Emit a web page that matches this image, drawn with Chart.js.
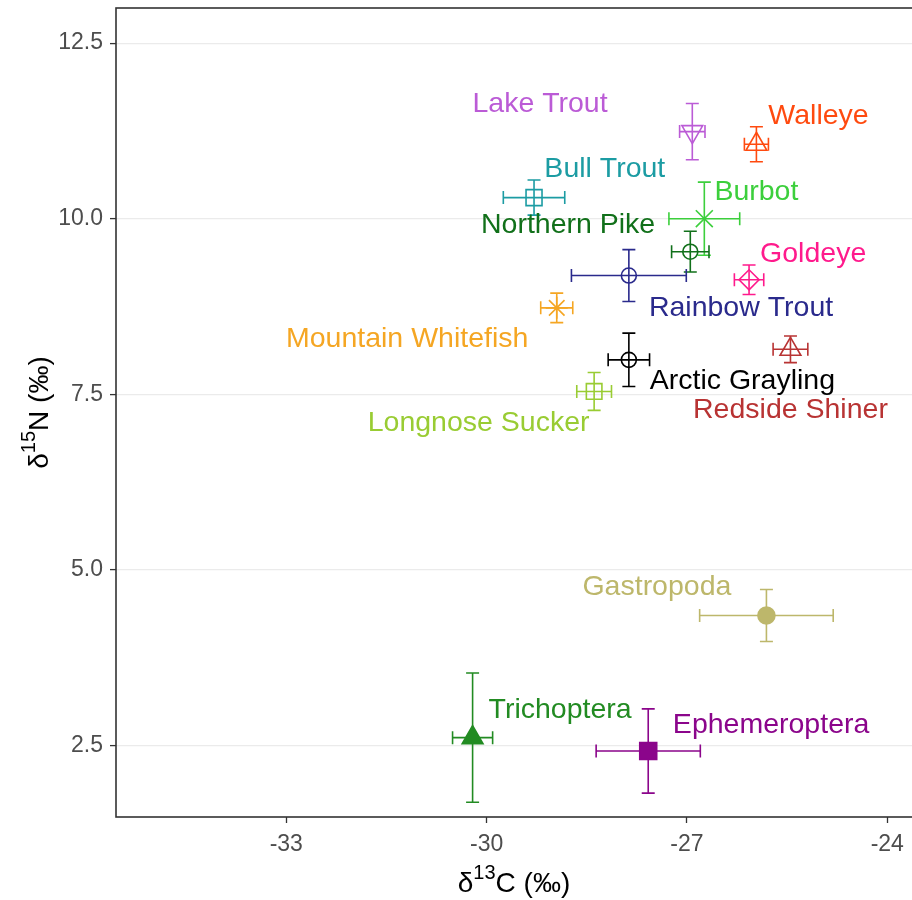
<!DOCTYPE html>
<html>
<head>
<meta charset="utf-8">
<script src="https://cdn.jsdelivr.net/npm/chart.js@4.4.1/dist/chart.umd.min.js"></script>
<style>
  html, body { margin: 0; padding: 0; background: #ffffff; }
  #wrap { width: 912px; height: 900px; }
</style>
</head>
<body>
<div id="wrap"><canvas id="iso" width="912" height="900"></canvas></div>
<script>
// Stable isotope biplot: mean δ13C / δ15N per taxon with ±1 SD error bars

const taxa = [
  'Arctic Grayling', 'Bull Trout', 'Burbot', 'Ephemeroptera', 'Gastropoda',
  'Goldeye', 'Lake Trout', 'Longnose Sucker', 'Mountain Whitefish',
  'Northern Pike', 'Rainbow Trout', 'Redside Shiner', 'Trichoptera', 'Walleye'
];

// mean δ13C (‰) and its SD
const carbonMean = [-27.87, -29.29, -26.74, -27.58, -25.81, -26.07, -26.92, -28.39, -28.95, -26.95, -27.87, -25.45, -30.21, -25.96];
const carbonSD   = [  0.31,   0.46,   0.53,   0.78,   1.00,   0.22,   0.19,   0.26,   0.24,   0.28,   0.86,   0.26,   0.30,   0.18];

// mean δ15N (‰) and its SD
const nitrogenMean = [7.99, 10.30, 10.00, 2.42, 4.35, 9.13, 11.24, 7.54, 8.73, 9.53, 9.19, 8.14, 2.61, 11.06];
const nitrogenSD   = [0.38,  0.25,  0.52, 0.60, 0.37, 0.21,  0.40, 0.27, 0.21, 0.29, 0.37, 0.19, 0.92,  0.25];

// where each taxon name sits, in axis units (δ13C, δ15N)
const labelCarbon   = [-26.17, -28.23, -25.96, -25.74, -27.45, -25.11, -29.20, -30.12, -31.19, -28.78, -26.19, -25.45, -28.90, -25.03];
const labelNitrogen = [  7.72,  10.74,  10.40,   2.82,   4.78,   9.52,  11.66,   7.11,   8.32,   9.94,   8.76,   7.30,   3.03,  11.49];

const xTicks = [-33, -30, -27, -24];
const yTicks = [2.5, 5.0, 7.5, 10.0, 12.5];

// per-taxon styling
const colours = [
  '#000000', '#1c9ca3', '#3ccf3c', '#8b058b', '#bdb76b',
  '#ff1a8c', '#bb5bd6', '#99cc33', '#f5a623',
  '#11701a', '#2a2a8c', '#b83333', '#228b22', '#ff4a0f'
];
const shapes = [
  { style: 'circle',   r: 7.5, rot: 0,   fill: false },
  { style: 'rect',     r: 11.3, rot: 0,  fill: false },
  { style: 'crossRot', r: 12,  rot: 0,   fill: false },
  { style: 'rect',     r: 12,  rot: 0,   fill: true  },
  { style: 'circle',   r: 8.5, rot: 0,   fill: true  },
  { style: 'rectRot',  r: 10,  rot: 0,   fill: false },
  { style: 'triangle', r: 12,  rot: 180, fill: false },
  { style: 'rect',     r: 11,  rot: 0,   fill: false },
  { style: 'star',     r: 11,  rot: 0,   fill: false },
  { style: 'circle',   r: 7.5, rot: 0,   fill: false },
  { style: 'circle',   r: 7.5, rot: 0,   fill: false },
  { style: 'triangle', r: 12,  rot: 0,   fill: false },
  { style: 'triangle', r: 12,  rot: 0,   fill: true  },
  { style: 'triangle', r: 12,  rot: 0,   fill: false }
];

const FONT = "'Liberation Sans', Arial, Helvetica, sans-serif";
const CAP = 6.5;

// ±SD whiskers with end caps, placed through the chart's scales
const errorBars = {
  id: 'errorBars',
  beforeDatasetsDraw(chart) {
    const { ctx, scales: { x, y } } = chart;
    ctx.save();
    ctx.lineWidth = 1.6;
    taxa.forEach((t, i) => {
      const cx = x.getPixelForValue(carbonMean[i]);
      const cy = y.getPixelForValue(nitrogenMean[i]);
      const x0 = x.getPixelForValue(carbonMean[i] - carbonSD[i]);
      const x1 = x.getPixelForValue(carbonMean[i] + carbonSD[i]);
      const y0 = y.getPixelForValue(nitrogenMean[i] - nitrogenSD[i]);
      const y1 = y.getPixelForValue(nitrogenMean[i] + nitrogenSD[i]);
      ctx.strokeStyle = colours[i];
      ctx.beginPath();
      ctx.moveTo(x0, cy); ctx.lineTo(x1, cy);
      ctx.moveTo(x0, cy - CAP); ctx.lineTo(x0, cy + CAP);
      ctx.moveTo(x1, cy - CAP); ctx.lineTo(x1, cy + CAP);
      ctx.moveTo(cx, y0); ctx.lineTo(cx, y1);
      ctx.moveTo(cx - CAP, y0); ctx.lineTo(cx + CAP, y0);
      ctx.moveTo(cx - CAP, y1); ctx.lineTo(cx + CAP, y1);
      ctx.stroke();
    });
    ctx.restore();
  }
};

// taxon names in their own colours
const taxonLabels = {
  id: 'taxonLabels',
  afterDatasetsDraw(chart) {
    const { ctx, scales: { x, y } } = chart;
    ctx.save();
    ctx.font = `28.5px ${FONT}`;
    ctx.textAlign = 'center';
    ctx.textBaseline = 'middle';
    taxa.forEach((t, i) => {
      ctx.fillStyle = colours[i];
      ctx.fillText(t, x.getPixelForValue(labelCarbon[i]), y.getPixelForValue(labelNitrogen[i]) + 2);
    });
    ctx.restore();
  }
};

// panel border
const panelFrame = {
  id: 'panelFrame',
  afterDraw(chart) {
    const { ctx, chartArea: a } = chart;
    ctx.save();
    ctx.strokeStyle = '#333333';
    ctx.lineWidth = 1.6;
    ctx.strokeRect(a.left, a.top, a.right - a.left + 10, a.bottom - a.top);
    ctx.restore();
  }
};

// axis titles with superscript isotope masses
function drawIsoTitle(ctx, parts, cx, cy) {
  const big = `28px ${FONT}`, small = `20px ${FONT}`;
  let w = 0;
  parts.forEach(p => { ctx.font = p.sup ? small : big; w += ctx.measureText(p.t).width; });
  let px = cx - w / 2;
  parts.forEach(p => {
    ctx.font = p.sup ? small : big;
    ctx.fillText(p.t, px, p.sup ? cy - 11 : cy);
    px += ctx.measureText(p.t).width;
  });
}
const axisTitles = {
  id: 'axisTitles',
  afterDraw(chart) {
    const { ctx, chartArea: a } = chart;
    ctx.save();
    ctx.fillStyle = '#000000';
    ctx.textAlign = 'left';
    ctx.textBaseline = 'middle';
    drawIsoTitle(ctx, [{ t: 'δ' }, { t: '13', sup: true }, { t: 'C (‰)' }], (a.left + a.right) / 2, 884);
    ctx.translate(40, (a.top + a.bottom) / 2);
    ctx.rotate(-Math.PI / 2);
    drawIsoTitle(ctx, [{ t: 'δ' }, { t: '15', sup: true }, { t: 'N (‰)' }], 0, 0);
    ctx.restore();
  }
};

function noOverhang(s) {
  s.paddingTop = 0; s.paddingBottom = 0; s.paddingLeft = 0; s.paddingRight = 0;
}

new Chart(document.getElementById('iso'), {
  type: 'scatter',
  data: {
    datasets: [{
      data: taxa.map((t, i) => ({ x: carbonMean[i], y: nitrogenMean[i] })),
      pointStyle: shapes.map(s => s.style),
      pointRadius: shapes.map(s => s.r),
      pointRotation: shapes.map(s => s.rot),
      pointBorderColor: colours,
      pointBackgroundColor: shapes.map((s, i) => s.fill ? colours[i] : 'rgba(0,0,0,0)'),
      pointBorderWidth: 1.6,
      showLine: false
    }]
  },
  options: {
    responsive: false,
    animation: false,
    layout: { autoPadding: false, padding: { top: 8, right: 0, bottom: 0, left: 0 } },
    plugins: { legend: { display: false }, tooltip: { enabled: false } },
    scales: {
      x: {
        type: 'linear',
        min: -35.55, max: -23.63,
        afterBuildTicks: s => { s.ticks = xTicks.map(v => ({ value: v })); },
        afterFit: s => { s.height = 83; noOverhang(s); },
        border: { display: false },
        grid: { drawOnChartArea: false, drawTicks: true, tickLength: 6, tickColor: '#333333', tickWidth: 1.3 },
        ticks: { color: '#4d4d4d', font: { family: FONT, size: 23 }, padding: 8, maxRotation: 0, callback: v => String(v) }
      },
      y: {
        type: 'linear',
        min: 1.48, max: 13.0,
        afterBuildTicks: s => { s.ticks = yTicks.map(v => ({ value: v })); },
        afterFit: s => { s.width = 116; noOverhang(s); },
        border: { display: false },
        grid: { color: '#ebebeb', lineWidth: 1.2, drawTicks: true, tickLength: 6, tickColor: '#333333', tickWidth: 1.3 },
        ticks: { color: '#4d4d4d', font: { family: FONT, size: 23 }, padding: 7, callback: v => Number(v).toFixed(1) }
      }
    }
  },
  plugins: [errorBars, taxonLabels, panelFrame, axisTitles]
});
</script>
</body>
</html>
